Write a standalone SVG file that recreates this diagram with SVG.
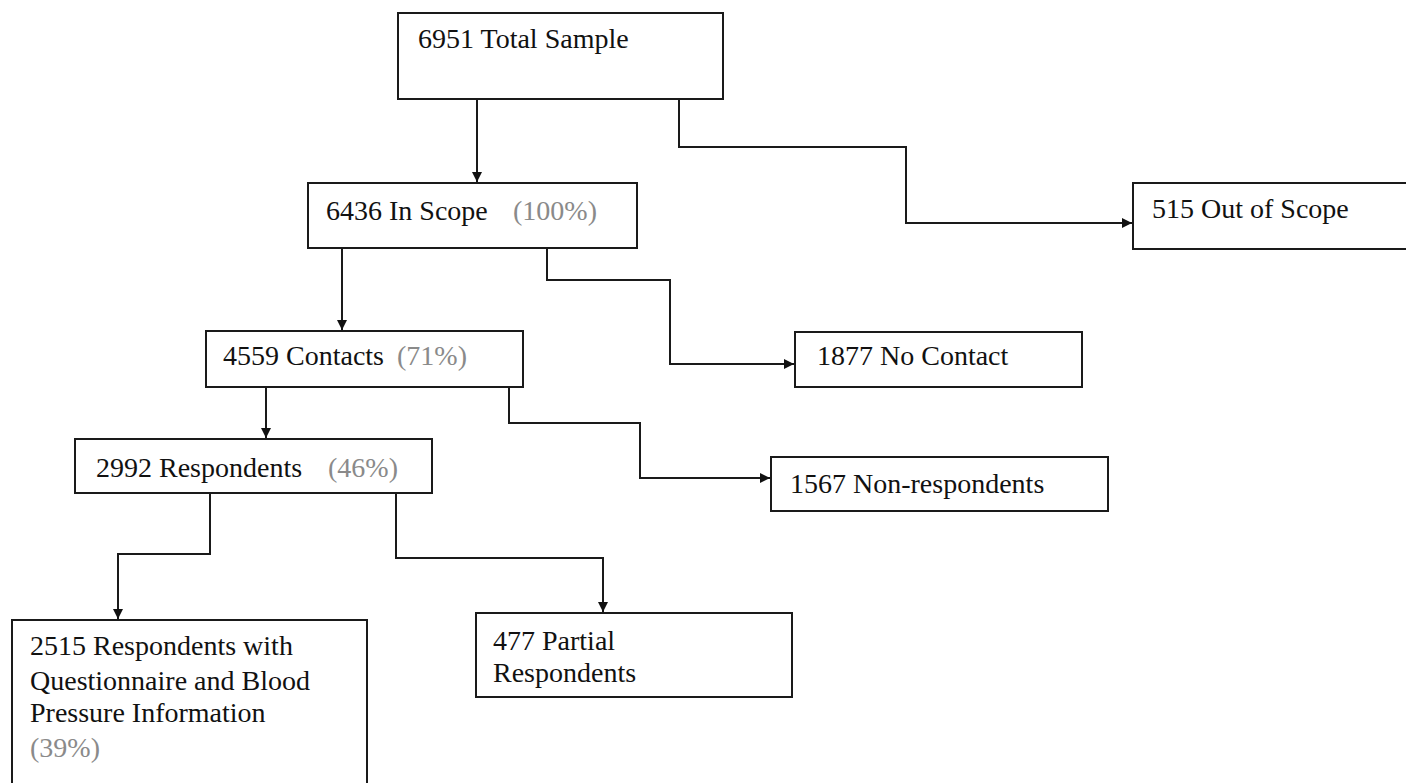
<svg xmlns="http://www.w3.org/2000/svg" width="1406" height="783" viewBox="0 0 1406 783">
<style>
rect.box{fill:#fff;stroke:#1a1a1a;stroke-width:2}
text{font-family:"Liberation Serif","Times New Roman",serif;font-size:28px;fill:#111}
.pct{fill:#8a8a8a}
.conn path{fill:none;stroke:#1a1a1a;stroke-width:2}
</style>
<defs>
<marker id="arr" viewBox="0 0 10 10" refX="10" refY="5" markerWidth="10" markerHeight="10" markerUnits="userSpaceOnUse" orient="auto">
<path d="M0,0 L10,5 L0,10 z" fill="#111"/>
</marker>
</defs>
<rect width="1406" height="783" fill="#fff"/>
<g class="conn">
<path d="M477,99 V182" marker-end="url(#arr)"/>
<path d="M679,99 V147 H906 V223 H1132" marker-end="url(#arr)"/>
<path d="M342,248 V330" marker-end="url(#arr)"/>
<path d="M547,248 V280 H670 V364 H794" marker-end="url(#arr)"/>
<path d="M266,386 V438" marker-end="url(#arr)"/>
<path d="M509,386 V423 H640 V478 H770" marker-end="url(#arr)"/>
<path d="M210,493 V554 H118 V619" marker-end="url(#arr)"/>
<path d="M396,493 V558 H603 V612" marker-end="url(#arr)"/>
</g>
<g id="total">
<rect class="box" x="398" y="13" width="325" height="86"/>
<text x="418" y="48">6951 Total Sample</text>
</g>
<g id="inscope">
<rect class="box" x="308" y="183" width="329" height="65"/>
<text x="326" y="220">6436 In Scope</text>
<text class="pct" x="513" y="220">(100%)</text>
</g>
<g id="outscope">
<rect class="box" x="1133" y="183" width="280" height="66"/>
<text x="1152" y="218">515 Out of Scope</text>
</g>
<g id="contacts">
<rect class="box" x="206" y="331" width="317" height="56"/>
<text x="223" y="365">4559 Contacts</text>
<text class="pct" x="397" y="365">(71%)</text>
</g>
<g id="nocontact">
<rect class="box" x="795" y="332" width="287" height="55"/>
<text x="817" y="365">1877 No Contact</text>
</g>
<g id="respondents">
<rect class="box" x="75" y="439" width="357" height="54"/>
<text x="96" y="477">2992 Respondents</text>
<text class="pct" x="328" y="477">(46%)</text>
</g>
<g id="nonresp">
<rect class="box" x="771" y="457" width="337" height="54"/>
<text x="790" y="493">1567 Non-respondents</text>
</g>
<g id="full">
<rect class="box" x="12" y="620" width="355" height="180"/>
<text x="30" y="655">2515 Respondents with</text>
<text x="30" y="690">Questionnaire and Blood</text>
<text x="30" y="722">Pressure Information</text>
<text class="pct" x="30" y="757">(39%)</text>
</g>
<g id="partial">
<rect class="box" x="476" y="613" width="316" height="84"/>
<text x="493" y="650">477 Partial</text>
<text x="493" y="682">Respondents</text>
</g>
</svg>
